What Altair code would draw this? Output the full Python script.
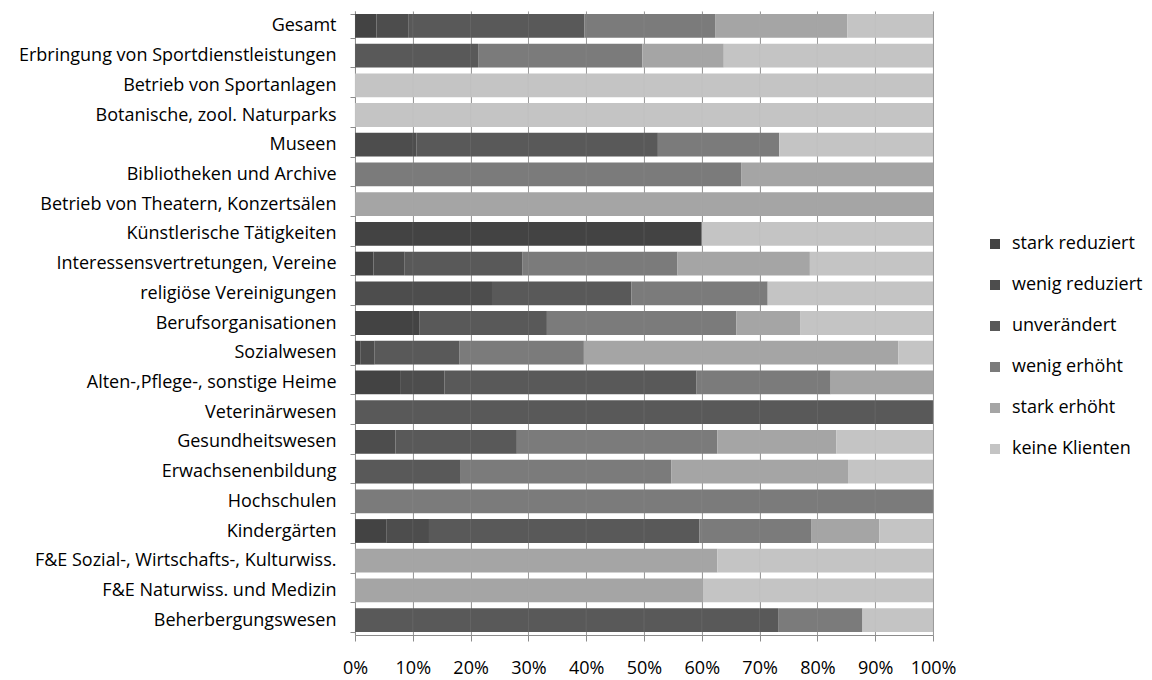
import altair as alt
import pandas as pd

categories = [
    "Gesamt",
    "Erbringung von Sportdienstleistungen",
    "Betrieb von Sportanlagen",
    "Botanische, zool. Naturparks",
    "Museen",
    "Bibliotheken und Archive",
    "Betrieb von Theatern, Konzertsälen",
    "Künstlerische Tätigkeiten",
    "Interessensvertretungen, Vereine",
    "religiöse Vereinigungen",
    "Berufsorganisationen",
    "Sozialwesen",
    "Alten-,Pflege-, sonstige Heime",
    "Veterinärwesen",
    "Gesundheitswesen",
    "Erwachsenenbildung",
    "Hochschulen",
    "Kindergärten",
    "F&E Sozial-, Wirtschafts-, Kulturwiss.",
    "F&E Naturwiss. und Medizin",
    "Beherbergungswesen",
]

series = ["stark reduziert", "wenig reduziert", "unverändert",
          "wenig erhöht", "stark erhöht", "keine Klienten"]

stark_reduziert = [3.7, 0, 0, 0, 0, 0, 0, 60.0, 3.2, 0, 11.1, 0.9, 7.8, 0, 0, 0, 0, 5.4, 0, 0, 0]
wenig_reduziert = [5.5, 0, 0, 0, 10.6, 0, 0, 0, 5.4, 23.7, 0, 2.5, 7.7, 0, 7.0, 0, 0, 7.4, 0, 0, 0]
unveraendert = [30.5, 21.3, 0, 0, 41.8, 0, 0, 0, 20.4, 24.1, 22.1, 14.7, 43.6, 100, 21.0, 18.3, 0, 46.8, 0, 0, 73.2]
wenig_erhoeht = [22.6, 28.4, 0, 0, 21.0, 66.8, 0, 0, 26.8, 23.6, 32.8, 21.5, 23.2, 0, 34.7, 36.4, 100, 19.4, 0, 0, 14.6]
stark_erhoeht = [22.9, 14.1, 0, 0, 0, 33.2, 100, 0, 22.9, 0, 11.0, 54.4, 17.7, 0, 20.6, 30.6, 0, 11.7, 62.7, 60.2, 0]
keine_klienten = [14.8, 36.2, 100, 100, 26.6, 0, 0, 40.0, 21.3, 28.6, 23.0, 6.0, 0, 0, 16.7, 14.7, 0, 9.3, 37.3, 39.8, 12.2]

colors = ["#434343", "#4d4d4d", "#595959", "#7b7b7b", "#a5a5a5", "#c4c4c4"]

tick_values = [0, 0.1, 0.2, 0.3, 0.4, 0.5, 0.6, 0.7, 0.8, 0.9, 1.0]

all_series = [stark_reduziert, wenig_reduziert, unveraendert,
              wenig_erhoeht, stark_erhoeht, keine_klienten]

rows = []
for i, cat in enumerate(categories):
    for j, s in enumerate(series):
        rows.append({"Kategorie": cat, "Antwort": s,
                     "Anteil": all_series[j][i], "ord": j})
df = pd.DataFrame(rows)
grid_df = pd.DataFrame({"tick": tick_values})

FONT = "Open Sans"
FS = 18

x_scale = alt.Scale(domain=[0, 1], nice=False)

bars = alt.Chart(df).mark_bar().encode(
    x=alt.X(
        "Anteil:Q",
        stack="normalize",
        scale=x_scale,
        axis=alt.Axis(
            title=None,
            format="%",
            values=tick_values,
            grid=True,
            gridColor="#9a9a9a",
            gridWidth=1,
            domainColor="#8c8c8c",
            tickColor="#8c8c8c",
            tickSize=6,
            labelPadding=18,
            labelOverlap=False,
            labelFlush=False,
            labelFont=FONT,
            labelFontSize=FS,
            labelColor="#000000",
        ),
    ),
    y=alt.Y(
        "Kategorie:N",
        sort=categories,
        scale=alt.Scale(paddingInner=0.2, paddingOuter=0.1),
        axis=alt.Axis(
            title=None,
            tickBand="extent",
            domainColor="#8c8c8c",
            tickColor="#8c8c8c",
            tickSize=5,
            labelPadding=14,
            labelLimit=0,
            labelFont=FONT,
            labelFontSize=FS,
            labelColor="#000000",
            minExtent=347,
            maxExtent=347,
        ),
    ),
    color=alt.Color(
        "Antwort:N",
        scale=alt.Scale(domain=series, range=colors),
        legend=alt.Legend(
            title=None,
            orient="none",
            legendX=631,
            legendY=224,
            symbolType="square",
            symbolSize=100,
            symbolStrokeWidth=0,
            labelFont=FONT,
            labelFontSize=FS,
            labelColor="#000000",
            labelOffset=8,
            labelLimit=0,
            rowPadding=23,
        ),
    ),
    order=alt.Order("ord:Q"),
)

# faint gridlines that show through the bars, as in the reference
grid_over = alt.Chart(grid_df).mark_rule(color="#b0b0b0", opacity=0.15, strokeWidth=1).encode(
    x=alt.X("tick:Q", scale=x_scale),
)

chart = alt.layer(bars, grid_over).properties(
    width=578,
    height=624,
    padding={"left": 0, "top": -6, "right": 0, "bottom": 0},
).configure_view(strokeWidth=0)

chart.save("out.html", embed_options={"renderer": "svg", "actions": False})
